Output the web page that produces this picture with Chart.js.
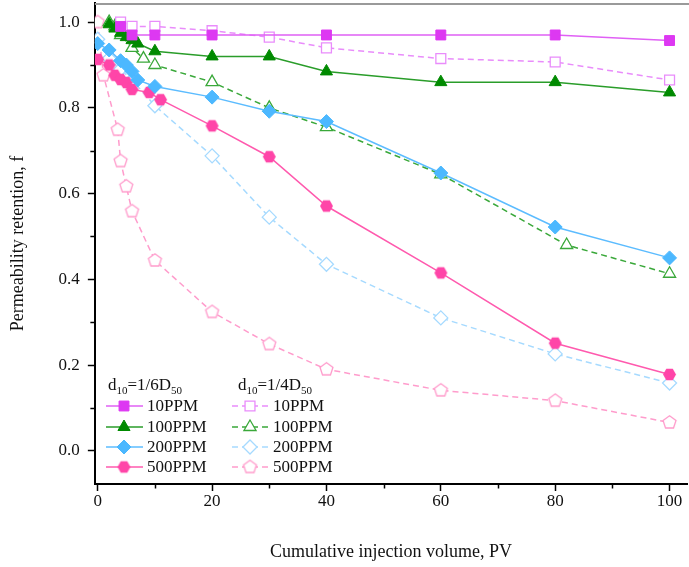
<!DOCTYPE html>
<html>
<head>
<meta charset="utf-8">
<script src="https://cdn.jsdelivr.net/npm/chart.js@4/dist/chart.umd.min.js"></script>
<style>
html,body{margin:0;padding:0;background:#fff;}
#wrap{width:689px;height:567px;position:relative;}
</style>
</head>
<body>
<div id="wrap"><canvas id="c" width="689" height="567"></canvas></div>
<script>
// ---- data ----
const xTickValues = [0, 20, 40, 60, 80, 100];
const yTickValues = [0.0, 0.2, 0.4, 0.6, 0.8, 1.0];
const groupLabels = ["d10=1/6D50", "d10=1/4D50"];
const seriesNames = ["10PPM", "100PPM", "200PPM", "500PPM"];

const s10_x  = [4, 6, 10, 20, 40, 60, 80, 100];
const s10_y  = [0.99, 0.97, 0.97, 0.97, 0.97, 0.97, 0.97, 0.957];
const s100_x = [2, 3, 4, 5, 6, 7, 10, 20, 30, 40, 60, 80, 100];
const s100_y = [0.995, 0.985, 0.975, 0.965, 0.958, 0.95, 0.932, 0.92, 0.92, 0.885, 0.86, 0.86, 0.836];
const s200_x = [0, 2, 4, 5, 6, 7, 10, 20, 30, 40, 60, 80, 100];
const s200_y = [0.95, 0.935, 0.91, 0.9, 0.885, 0.865, 0.85, 0.825, 0.792, 0.768, 0.648, 0.522, 0.45];
const s500_x = [0, 2, 3, 4, 5, 6, 9, 11, 20, 30, 40, 60, 80, 100];
const s500_y = [0.913, 0.9, 0.876, 0.866, 0.859, 0.843, 0.836, 0.819, 0.758, 0.686, 0.571, 0.415, 0.251, 0.178];

const d10_x  = [4, 6, 10, 20, 30, 40, 60, 80, 100];
const d10_y  = [1.0, 0.99, 0.99, 0.98, 0.965, 0.94, 0.915, 0.907, 0.865];
const d100_x = [2, 3, 4, 6, 8, 10, 20, 30, 40, 60, 82, 100];
const d100_y = [1.0, 0.99, 0.97, 0.94, 0.915, 0.9, 0.86, 0.80, 0.755, 0.645, 0.48, 0.413];
const d200_x = [0, 2, 4, 6, 10, 20, 30, 40, 60, 80, 100];
const d200_y = [0.96, 0.915, 0.89, 0.865, 0.805, 0.688, 0.545, 0.435, 0.31, 0.226, 0.158];
const d500_x = [0, 1, 3.5, 4, 5, 6, 10, 20, 30, 40, 60, 80, 100];
const d500_y = [1.0, 0.876, 0.749, 0.676, 0.617, 0.559, 0.444, 0.324, 0.249, 0.19, 0.141, 0.117, 0.066];

// ---- helpers ----
function pts(xs, ys){ return xs.map((x,i)=>({x:x, y:ys[i]})); }
function polyCanvas(n, r, fill, stroke, lw, startDeg){
  const s = Math.ceil(2*r + lw + 2);
  const cv = document.createElement('canvas');
  cv.width = s; cv.height = s;
  const g = cv.getContext('2d');
  g.beginPath();
  for (let i=0;i<n;i++){
    const a = (startDeg + i*360/n) * Math.PI/180;
    const px = s/2 + r*Math.cos(a), py = s/2 + r*Math.sin(a);
    if (i===0) g.moveTo(px,py); else g.lineTo(px,py);
  }
  g.closePath();
  g.fillStyle = fill; g.fill();
  if (lw>0){ g.lineWidth = lw; g.strokeStyle = stroke; g.stroke(); }
  return cv;
}

const C = {
  m: '#dd38f2', mLine: '#e060f5', mLight: '#e98cfb',
  g: '#008a00', gLine: '#2a9d2a', gLight: '#3aa83a',
  b: '#4cb8ff', bLine: '#5cbcff', bLight: '#a6daff',
  p: '#ff45a8', pLine: '#ff5aae', pLight: '#ff9ccc'
};

const hexFilled = polyCanvas(6, 6.5, C.p, C.p, 0, 0);
const pentHollow = polyCanvas(5, 6.8, '#fff', C.pLight, 1.3, -90);

const solid = (label, data, color, line, style, radius, img) => ({
  label, data, borderColor: line, backgroundColor: color,
  pointBackgroundColor: color, pointBorderColor: color, pointBorderWidth: 1,
  pointStyle: img || style, pointRadius: radius, pointHoverRadius: radius,
  borderWidth: 1.5, showLine: true, tension: 0, fill: false
});
const dashed = (label, data, color, style, radius, img) => ({
  label, data, borderColor: color, backgroundColor: '#fff',
  pointBackgroundColor: '#fff', pointBorderColor: color, pointBorderWidth: 1.3,
  pointStyle: img || style, pointRadius: radius, pointHoverRadius: radius,
  borderWidth: 1.5, borderDash: [6, 4], showLine: true, tension: 0, fill: false
});

const datasets = [
  solid(seriesNames[0], pts(s10_x, s10_y), C.m, C.mLine, 'rect', 7),
  solid(seriesNames[1], pts(s100_x, s100_y), C.g, C.gLine, 'triangle', 7),
  solid(seriesNames[2], pts(s200_x, s200_y), C.b, C.bLine, 'rectRot', 7),
  solid(seriesNames[3], pts(s500_x, s500_y), C.p, C.pLine, 'circle', 7, hexFilled),
  dashed(seriesNames[0], pts(d10_x, d10_y), C.mLight, 'rect', 7),
  dashed(seriesNames[1], pts(d100_x, d100_y), C.gLight, 'triangle', 7),
  dashed(seriesNames[2], pts(d200_x, d200_y), C.bLight, 'rectRot', 7),
  dashed(seriesNames[3], pts(d500_x, d500_y), C.pLight, 'circle', 7, pentHollow),
];
datasets.forEach((d,i)=>{ d.order = i < 4 ? 0 : 1; });

const FONT = '"Liberation Serif", "Times New Roman", serif';

const framePlugin = {
  id: 'frame',
  afterDraw(chart){
    const ctx = chart.ctx, xs = chart.scales.x, ys = chart.scales.y, a = chart.chartArea;
    ctx.save();
    ctx.strokeStyle = '#000'; ctx.lineWidth = 1.5;
    [10,30,50,70,90].forEach(v=>{
      const px = Math.round(xs.getPixelForValue(v))+0.5;
      ctx.beginPath(); ctx.moveTo(px, a.bottom); ctx.lineTo(px, a.bottom+4.5); ctx.stroke();
    });
    [0.1,0.3,0.5,0.7,0.9].forEach(v=>{
      const py = Math.round(ys.getPixelForValue(v))+0.5;
      ctx.beginPath(); ctx.moveTo(a.left, py); ctx.lineTo(a.left-4.5, py); ctx.stroke();
    });
    ctx.strokeStyle = '#9a9a9a'; ctx.lineWidth = 2;
    ctx.beginPath(); ctx.moveTo(a.left, a.top+1); ctx.lineTo(chart.width, a.top+1); ctx.stroke();
    ctx.restore();
  }
};

const legendPlugin = {
  id: 'twoColLegend',
  afterDatasetsDraw(chart){
    const ctx = chart.ctx;
    ctx.save();
    const headers = [{x:108, y:385, parts:["d","10","=1/6D","50"]}, {x:238, y:385, parts:["d","10","=1/4D","50"]}];
    ctx.fillStyle = '#111'; ctx.textBaseline = 'alphabetic';
    headers.forEach(h=>{
      let x = h.x;
      h.parts.forEach((t,i)=>{
        const sub = i%2===1;
        ctx.font = (sub ? '11px ' : '17px ') + FONT;
        ctx.fillText(t, x, h.y + (sub ? 4 : 0) + 5);
        x += ctx.measureText(t).width;
      });
    });
    const rowY = [406, 427, 447, 467];
    const cols = [{x0:106, x1:143, mx:124, tx:147, start:0}, {x0:232, x1:269, mx:250, tx:273, start:4}];
    cols.forEach(c=>{
      for (let r=0;r<4;r++){
        const ds = chart.data.datasets[c.start + r];
        const y = rowY[r];
        ctx.save();
        ctx.strokeStyle = ds.borderColor; ctx.lineWidth = ds.borderWidth;
        ctx.setLineDash(ds.borderDash || []);
        ctx.beginPath(); ctx.moveTo(c.x0, y); ctx.lineTo(c.x1, y); ctx.stroke();
        ctx.restore();
        ctx.save();
        ctx.fillStyle = ds.pointBackgroundColor; ctx.strokeStyle = ds.pointBorderColor;
        ctx.lineWidth = ds.pointBorderWidth;
        Chart.helpers.drawPoint(ctx, {pointStyle: ds.pointStyle, rotation: 0, radius: ds.pointRadius, borderWidth: ds.pointBorderWidth}, c.mx, y);
        ctx.restore();
        ctx.fillStyle = '#111'; ctx.font = '17px ' + FONT; ctx.textBaseline = 'middle';
        ctx.fillText(ds.label, c.tx, y + 1);
      }
    });
    ctx.restore();
  }
};

new Chart(document.getElementById('c'), {
  type: 'line',
  data: { datasets },
  options: {
    responsive: false, animation: false,
    devicePixelRatio: 1,
    layout: { autoPadding: false, padding: { top: 3, right: 2, left: 7, bottom: 4 } },
    plugins: { legend: { display: false }, tooltip: { enabled: false } },
    scales: {
      x: {
        type: 'linear', min: -0.5, max: 103.05,
        afterBuildTicks: s => { s.ticks = xTickValues.map(v=>({value:v})); },
        afterFit: s => { s.paddingLeft = 0; s.paddingRight = 0; },
        ticks: { color: '#111', font: { family: FONT, size: 17 }, padding: 0, maxRotation: 0 },
        grid: { display: true, drawOnChartArea: false, drawTicks: true, tickLength: 7, color: '#000', tickWidth: 1.5 },
        border: { display: true, color: '#000', width: 2 },
        title: { display: true, text: 'Cumulative injection volume, PV', color: '#111', font: { family: FONT, size: 18 }, padding: { top: 30, bottom: 0 } }
      },
      y: {
        type: 'linear', min: -0.0775, max: 1.0446,
        afterBuildTicks: s => { s.ticks = yTickValues.map(v=>({value:v})); },
        afterFit: s => { s.paddingTop = 0; s.paddingBottom = 0; },
        ticks: { color: '#111', font: { family: FONT, size: 17 }, padding: 8,
                 callback: v => Number(v).toFixed(1) },
        grid: { display: true, drawOnChartArea: false, drawTicks: true, tickLength: 7, color: '#000', tickWidth: 1.5 },
        border: { display: true, color: '#000', width: 2 },
        title: { display: true, text: 'Permeability retention, f', color: '#111', font: { family: FONT, size: 18 }, padding: { top: 0, bottom: 22 } }
      }
    }
  },
  plugins: [framePlugin, legendPlugin]
});
</script>
</body>
</html>
